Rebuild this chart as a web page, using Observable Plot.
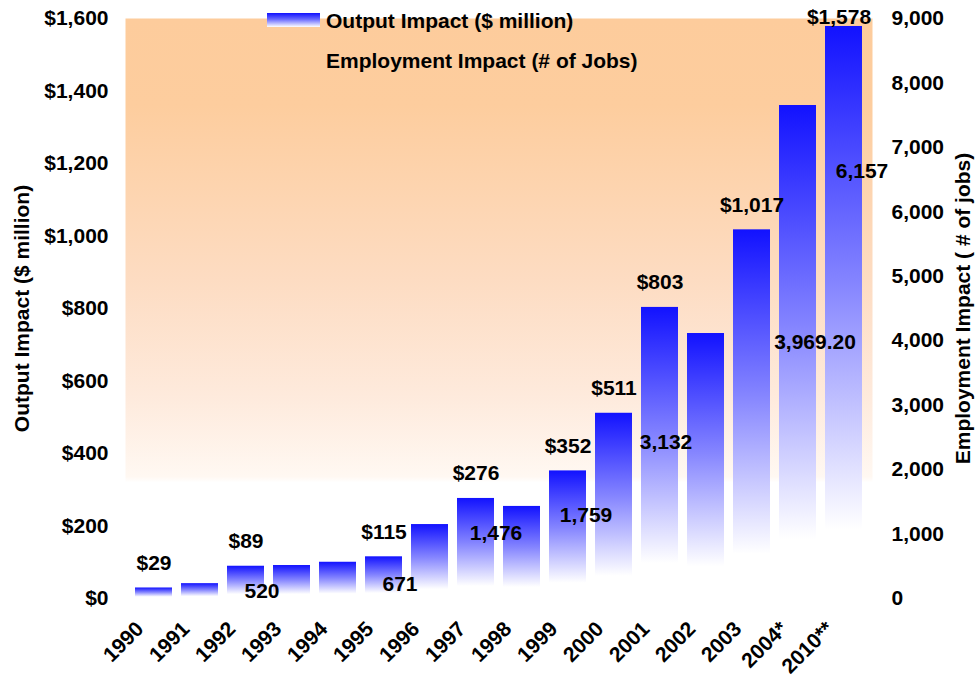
<!DOCTYPE html>
<html><head><meta charset="utf-8">
<script src="https://cdn.jsdelivr.net/npm/d3@7"></script>
<script src="https://cdn.jsdelivr.net/npm/@observablehq/plot@0.6"></script>
<style>
body{margin:0;background:#fff;}
#wrap{position:relative;width:977px;height:678px;font-family:"Liberation Sans",Arial,sans-serif;}
.leg{position:absolute;font-weight:bold;font-size:21px;color:#000;white-space:nowrap;line-height:1;}
.sw{position:absolute;background:linear-gradient(to bottom,#1010ff 0%,#6a6aff 45%,#ffffff 100%);}
</style></head><body><div id="wrap"></div>
<script>
// ---- data ----
const years = ["1990","1991","1992","1993","1994","1995","1996","1997","1998","1999","2000","2001","2002","2003","2004*","2010**"];
const output = [29, 41, 89, 91, 100, 115, 204, 276, 254, 352, 511, 803, 731, 1017, 1360, 1578];
const outputLabelYears = ["1990","1992","1995","1997","1999","2000","2001","2003","2010**"];
const empYears = ["1992","1995","1997","1999","2001","2004*","2010**"];
const employment = [520, 671, 1476, 1759, 3132, 3969.20, 6157];
const empLabels = ["520","671","1,476","1,759","3,132","3,969.20","6,157"];
const outputTicks = [0,200,400,600,800,1000,1200,1400,1600];
const employmentTicks = [0,1000,2000,3000,4000,5000,6000,7000,8000,9000];

const OUT_MAX = 1600, EMP_MAX = 9000;
const toOut = v => v * OUT_MAX / EMP_MAX;

const bars = years.map((y, i) => ({year: y, output: output[i]}));
const outLabels = bars.filter(d => outputLabelYears.includes(d.year));
const emp = empYears.map((y, i) => ({year: y, value: employment[i], label: empLabels[i]}));

// label nudges (style only)
const EMP_DX = [16, 16, 20, 18, 6, 17, 18];
const EMP_DY = [26, 29, 30, 30, 46, 0, -30];

const FONT = "Liberation Sans, Arial, sans-serif";
const fmt = d3.format(",");

const empMarks = emp.map((d, i) => Plot.text([d], {
  x: "year", y: d => toOut(d.value), text: "label",
  dx: EMP_DX[i], dy: EMP_DY[i], fontSize: 21, fontWeight: "bold", fill: "#000"
}));

const chart = Plot.plot({
  width: 977, height: 678,
  marginLeft: 125, marginRight: 105, marginTop: 18, marginBottom: 80,
  style: {fontFamily: FONT, fontSize: "21px", fontWeight: "bold", color: "#000", background: "transparent", overflow: "visible"},
  x: {domain: years, paddingInner: 0.2, paddingOuter: 0.1, label: null},
  y: {domain: [0, OUT_MAX], label: null},
  marks: [
    Plot.frame({fill: "url(#bgGrad)", stroke: "none"}),
    Plot.barY(bars, {x: "year", y: "output", fill: "url(#barGrad)"}),
    Plot.text(outLabels.filter(d => d.year !== "2010**"), {x: "year", y: "output", text: d => "$" + fmt(d.output), dy: -25, fontSize: 21, fontWeight: "bold", fill: "#000"}),
    Plot.text(outLabels.filter(d => d.year === "2010**"), {x: "year", y: "output", text: d => "$" + fmt(d.output), dy: -9, dx: -5, fontSize: 21, fontWeight: "bold", fill: "#000"}),
    ...empMarks,
    Plot.axisY(outputTicks, {anchor: "left", tickSize: 0, tickPadding: 17, tickFormat: d => "$" + fmt(d), label: null, fontSize: 21, fontWeight: "bold"}),
    Plot.axisY(employmentTicks, {anchor: "right", y: toOut, tickSize: 0, tickPadding: 19, tickFormat: d => fmt(d), label: null, fontSize: 21, fontWeight: "bold"}),
    Plot.axisX({tickRotate: -45, tickSize: 0, tickPadding: 27, dx: -14, label: null, fontSize: 21, fontWeight: "bold"}),
    Plot.text(["Output Impact ($ million)"], {frameAnchor: "left", textAnchor: "middle", rotate: -90, dx: -103, fontSize: 21, fontWeight: "bold", fill: "#000"}),
    Plot.text(["Employment Impact ( # of jobs)"], {frameAnchor: "right", textAnchor: "middle", rotate: -90, dx: 91, fontSize: 21, fontWeight: "bold", fill: "#000"})
  ]
});

// gradients
const NS = "http://www.w3.org/2000/svg";
const defs = document.createElementNS(NS, "defs");
function grad(id, stops) {
  const g = document.createElementNS(NS, "linearGradient");
  g.setAttribute("id", id);
  g.setAttribute("x1", "0"); g.setAttribute("y1", "0");
  g.setAttribute("x2", "0"); g.setAttribute("y2", "1");
  for (const [o, c] of stops) {
    const s = document.createElementNS(NS, "stop");
    s.setAttribute("offset", o); s.setAttribute("stop-color", c);
    g.appendChild(s);
  }
  defs.appendChild(g);
}
grad("barGrad", [[0, "#1212ff"], [0.45, "#8585ff"], [0.88, "#ffffff"], [1, "#ffffff"]]);
grad("bgGrad", [[0, "#fdcc9c"], [0.15, "#fdcd9e"], [0.45, "#fddcc2"], [0.65, "#feeadc"], [0.79, "#fff8f2"], [0.80, "#ffffff"], [1, "#ffffff"]]);
chart.insertBefore(defs, chart.firstChild);

const wrap = document.getElementById("wrap");
wrap.appendChild(chart);
chart.style.position = "absolute"; chart.style.left = "0"; chart.style.top = "0";

const sw = document.createElement("div");
sw.className = "sw";
Object.assign(sw.style, {left: "267px", top: "13px", width: "53px", height: "14px"});
wrap.appendChild(sw);
const l1 = document.createElement("div");
l1.className = "leg"; l1.textContent = "Output Impact ($ million)";
Object.assign(l1.style, {left: "326px", top: "10px"});
wrap.appendChild(l1);
const l2 = document.createElement("div");
l2.className = "leg"; l2.textContent = "Employment Impact (# of Jobs)";
Object.assign(l2.style, {left: "326px", top: "50px"});
wrap.appendChild(l2);
</script></body></html>
